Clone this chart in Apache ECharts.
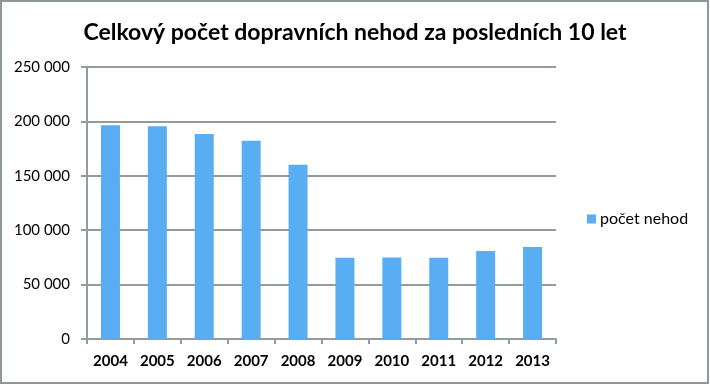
<!DOCTYPE html>
<html><head><meta charset="utf-8">
<script src="https://cdn.jsdelivr.net/npm/echarts@6/dist/echarts.min.js"></script>
<style>html,body{margin:0;padding:0;background:#fff}#c{width:710px;height:385px}</style>
</head><body><div id="c"></div>
<script>
const categories = ['2004','2005','2006','2007','2008','2009','2010','2011','2012','2013'];
const values = [196500, 195500, 188400, 182300, 160200, 74700, 74800, 74700, 80900, 84600];
const seriesName = 'počet nehod';
const titleText = 'Celkový počet dopravních nehod za posledních 10 let';

const chart = echarts.init(document.getElementById('c'));
const gridColor = '#939c9c';
chart.setOption({
  animation: false,
  title: {
    text: titleText, left: 'center', top: 16,
    textStyle: {fontFamily: 'Lato', fontWeight: 'bold', fontSize: 23, color: '#000'}
  },
  legend: {
    data: [seriesName], left: 582, top: 206, orient: 'vertical',
    icon: 'rect', itemWidth: 9, itemHeight: 9, itemGap: 4,
    textStyle: {fontFamily: 'Lato', fontSize: 16, color: '#000', padding: [0,0,0,-1]}
  },
  graphic: [{
    type: 'rect', shape: {x: 1, y: 1, width: 707, height: 382},
    style: {fill: 'none', stroke: '#8e9898', lineWidth: 2}, silent: true
  }],
  grid: {left: 87, top: 67, width: 469, height: 272, containLabel: false},
  xAxis: {
    type: 'category', data: categories,
    axisLine: {lineStyle: {color: gridColor, width: 2}},
    axisTick: {show: true, alignWithLabel: false, length: 5, lineStyle: {color: gridColor, width: 2}},
    axisLabel: {fontFamily: 'Lato', fontWeight: 'bold', fontSize: 15, color: '#000', margin: 15}
  },
  yAxis: {
    type: 'value', min: 0, max: 250000, interval: 50000,
    axisLine: {show: true, lineStyle: {color: gridColor, width: 2}},
    axisTick: {show: true, length: 6, lineStyle: {color: gridColor, width: 2}},
    splitLine: {lineStyle: {color: gridColor, width: 2}},
    axisLabel: {
      fontFamily: 'Lato', fontSize: 15, color: '#000', margin: 17,
      formatter: v => String(v).replace(/\B(?=(\d{3})+(?!\d))/g, ' ')
    }
  },
  series: [{
    name: seriesName, type: 'bar', data: values, barWidth: 19,
    itemStyle: {color: '#58adf3'}
  }]
});
</script></body></html>
